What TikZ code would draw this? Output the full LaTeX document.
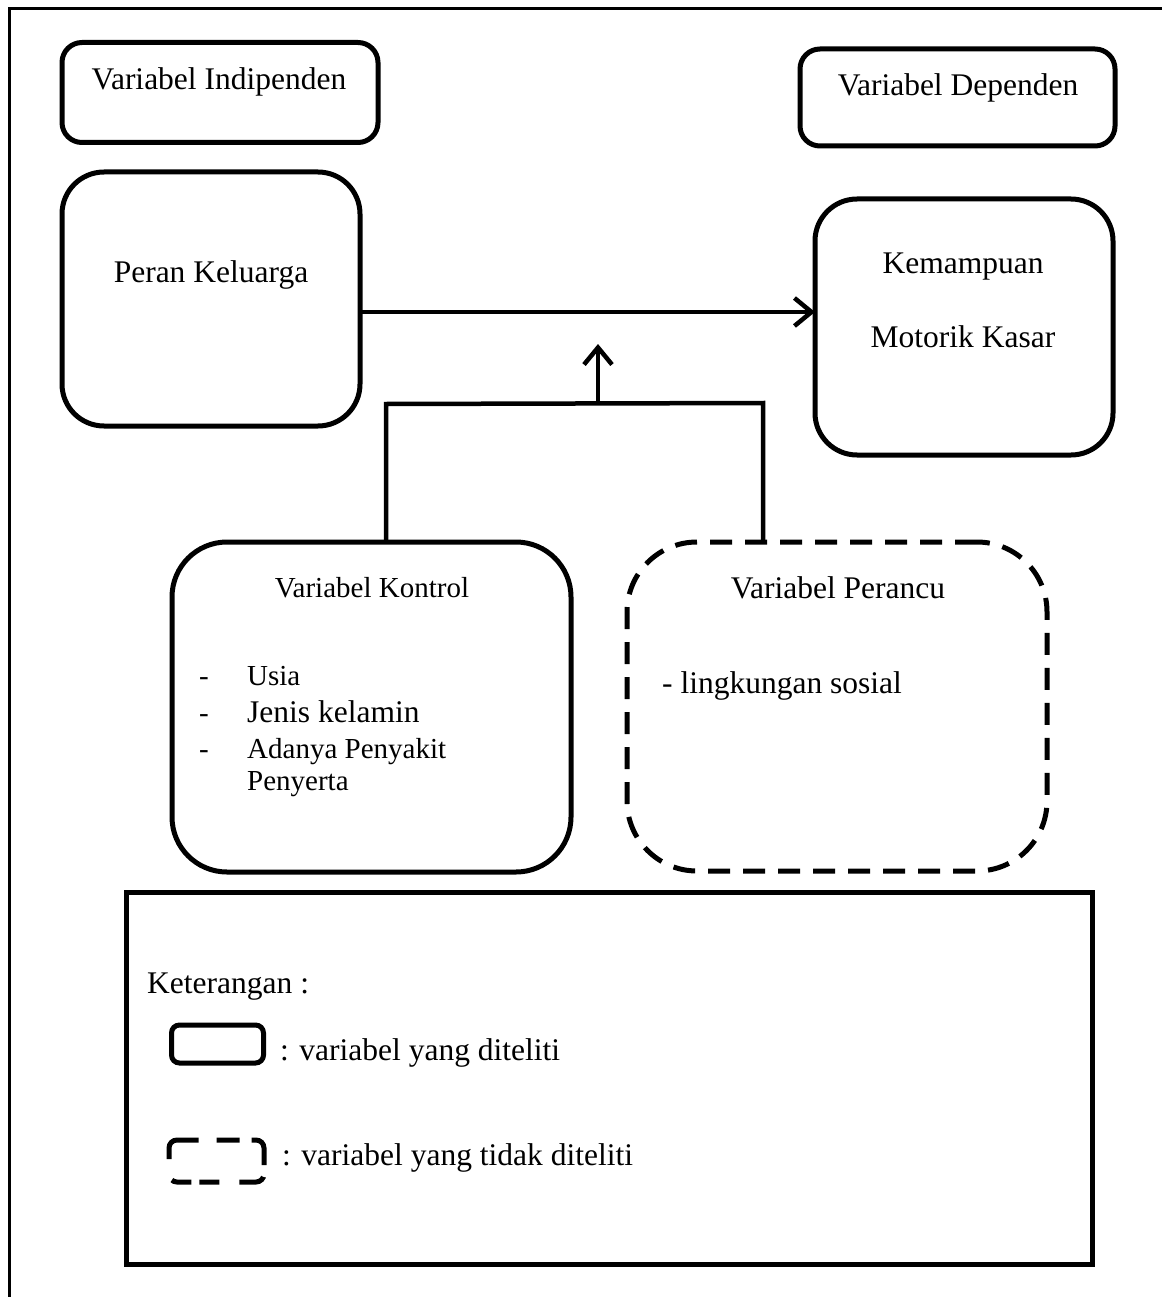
\documentclass[tikz,border=0pt]{standalone}
\usepackage{fontspec}
\setmainfont{Liberation Serif}
\usetikzlibrary{arrows.meta}
\begin{document}
\begin{tikzpicture}[x=1pt,y=-1pt,
  vbox/.style={draw, line width=5pt, rounded corners=#1, inner sep=0pt, outer sep=0pt},
  dbox/.style={vbox=#1, dash pattern=on 22pt off 13pt},
  frame/.style={draw, line width=5pt, inner sep=0pt, outer sep=0pt},
  conn/.style={line width=4.5pt},
  arr/.style={conn, -{Straight Barb[length=17pt,width=28pt]}},
  txt/.style={anchor=base, inner sep=0pt, font=\fontsize{31.5}{38}\selectfont},
  ltxt/.style={txt, anchor=base west},
  stxt/.style={ltxt, font=\fontsize{29}{35}\selectfont}
]
\useasboundingbox (0,0) rectangle (1161,1297);
% outer frame (top and left only)
\draw[line width=3pt] (9,1300) -- (9,9) -- (1165,9);

% header boxes
\node[vbox=20pt, minimum width=316pt, minimum height=100pt] (indep) at (220,92.5) {};
\node[txt] (indepT) at (219,90) {Variabel Indipenden};
\node[vbox=20pt, minimum width=315pt, minimum height=97pt] (dep) at (957.5,97.5) {};
\node[txt] (depT) at (958,96) {Variabel Dependen};

% main variables
\node[vbox=42pt, minimum width=298pt, minimum height=254pt] (peran) at (211,299) {};
\node[txt] (peranT) at (211,282) {Peran Keluarga};
\node[vbox=42pt, minimum width=298pt, minimum height=256pt] (kemamp) at (964,327) {};
\node[txt] (kemampT1) at (963,273) {Kemampuan};
\node[txt] (kemampT2) at (963,347) {Motorik Kasar};

% control variables
\node[vbox=55pt, minimum width=399pt, minimum height=330pt] (kontrol) at (371.5,707) {};
\node[txt, font=\fontsize{29}{35}\selectfont] (kontrolT) at (372,597) {Variabel Kontrol};
\node[stxt] (d1) at (199,685) {-};
\node[stxt] (i1) at (247,685) {Usia};
\node[stxt] (d2) at (199,722) {-};
\node[ltxt] (i2) at (247,722) {Jenis kelamin};
\node[stxt] (d3) at (199,758) {-};
\node[stxt] (i3) at (247,758) {Adanya Penyakit};
\node[stxt] (i4) at (247,790) {Penyerta};

% confounding variables
\node[dbox=70pt, minimum width=420pt, minimum height=329pt] (perancu) at (837,706.5) {};
\node[txt] (perancuT) at (838,598) {Variabel Perancu};
\node[ltxt] (p1) at (662,693) {- lingkungan sosial};

% connectors
\draw[arr] (peran.east |- 0,312) -- (kemamp.west |- 0,312);
\coordinate (join) at (598,404);
\coordinate (jtip) at (598,344);
\draw[conn] (kontrol.north -| 386,0) -- (386,404) -- (763,403) -- (perancu.north -| 763,0);
\draw[arr] (join) -- (jtip);

% legend
\node[frame, minimum width=966pt, minimum height=372pt] (legend) at (609.5,1078.5) {};
\node[ltxt] (ket) at (147,993) {Keterangan :};
\node[vbox=8pt, minimum width=92pt, minimum height=38pt] (lsolid) at (217.5,1044) {};
\node[ltxt] (lsolidT) at (280,1060) {: variabel yang diteliti};
\draw[line width=5pt, rounded corners=8pt,
  dash pattern=on 45pt off 18pt on 23pt off 12pt on 34pt off 12pt on 26pt off 20pt on 20pt off 8pt on 20pt off 36pt]
  (169,1167) -- (169,1140) -- (264,1140) -- (264,1182) -- (169,1182) -- cycle;
\node[ltxt] (ldashT) at (282,1165) {: variabel yang tidak diteliti};
\end{tikzpicture}
\end{document}
